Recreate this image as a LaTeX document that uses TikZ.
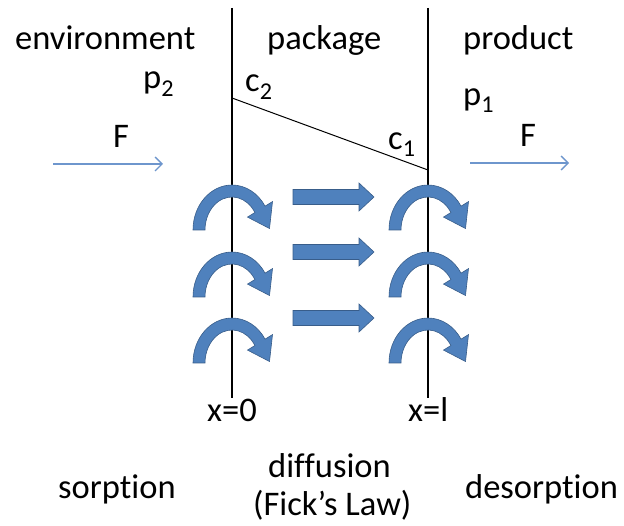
\documentclass[tikz,border=0pt]{standalone}
\usepackage{fontspec}
\setmainfont[Ligatures={NoCommon,NoContextual}]{Carlito}
\usetikzlibrary{arrows.meta}
\definecolor{arrowblue}{RGB}{79,129,189}
\definecolor{arrowedge}{RGB}{56,93,138}
\definecolor{flowblue}{RGB}{110,150,205}
\tikzset{
  lbl/.style={inner sep=0pt, anchor=base west, font=\fontsize{34.5}{40}\selectfont},
  wall/.style={line width=1.3pt, black},
  flow/.style={line width=1.4pt, flowblue, -{Straight Barb[length=7pt,width=14pt,line width=1.4pt]}},
  blockarrow/.style={fill=arrowblue, draw=arrowedge, line width=0.6pt},
  curv/.pic={
    \path[blockarrow, yscale=-1]
      (-39,0) arc[start angle=180,end angle=32,x radius=39,y radius=45]
      -- (40.5,28.4) -- (37.5,1.5) -- (15.5,12.9)
      -- (22.90,17.49) arc[start angle=32,end angle=180,x radius=27,y radius=33]
      -- cycle;
  }
}
\newcommand{\blockarr}[1]{%
  \path[blockarrow] (293,#1-7.5) -- (359,#1-7.5) -- (359,#1-14) -- (374,#1)
    -- (359,#1+14) -- (359,#1+7.5) -- (293,#1+7.5) -- cycle;}
\begin{document}
\begin{tikzpicture}[x=1pt,y=-1pt]
\useasboundingbox (0,0) rectangle (624,526);
% walls
\coordinate (Ltop) at (232,8);
\coordinate (Lbot) at (232,398);
\coordinate (Rtop) at (428,8);
\coordinate (Rbot) at (428,398);
\coordinate (c2pt) at (232,98);
\coordinate (c1pt) at (428,170);
\draw[wall] (Ltop) -- (Lbot);
\draw[wall] (Rtop) -- (Rbot);
\draw[line width=1pt] (c2pt) -- (c1pt);
% labels
\node[lbl] (env) at (15,50) {environment};
\node[lbl] (pkg) at (267,50) {package};
\node[lbl] (prod) at (463,50) {product};
\node[lbl] (p2) at (143,89) {p\textsubscript{2}};
\node[lbl] (c2) at (245,92) {c\textsubscript{2}};
\node[lbl] (p1) at (463,106) {p\textsubscript{1}};
\node[lbl] (c1) at (388,150) {c\textsubscript{1}};
\node[lbl] (FL) at (113,148) {F};
\node[lbl] (FR) at (520,147) {F};
\node[lbl] (x0) at (207,422) {x=0};
\node[lbl] (xl) at (408,422) {x=l};
\node[lbl] (diff) at (268,478) {diffusion};
\node[lbl] (fick) at (253,515) {(Fick’s Law)};
\node[lbl] (sorp) at (58,498) {sorption};
\node[lbl] (desorp) at (465,498) {desorption};
% flow arrows
\coordinate (fl1) at (53,164);
\coordinate (fl2) at (163,164);
\coordinate (fr1) at (470,163);
\coordinate (fr2) at (569,163);
\draw[flow] (fl1) -- (fl2);
\draw[flow] (fr1) -- (fr2);
% curved arrows
\foreach \yy in {230,297,363}{
  \pic at (232,\yy) {curv};
  \pic at (428,\yy) {curv};
}
% block arrows
\blockarr{197}
\blockarr{252}
\blockarr{318}
\end{tikzpicture}
\end{document}
